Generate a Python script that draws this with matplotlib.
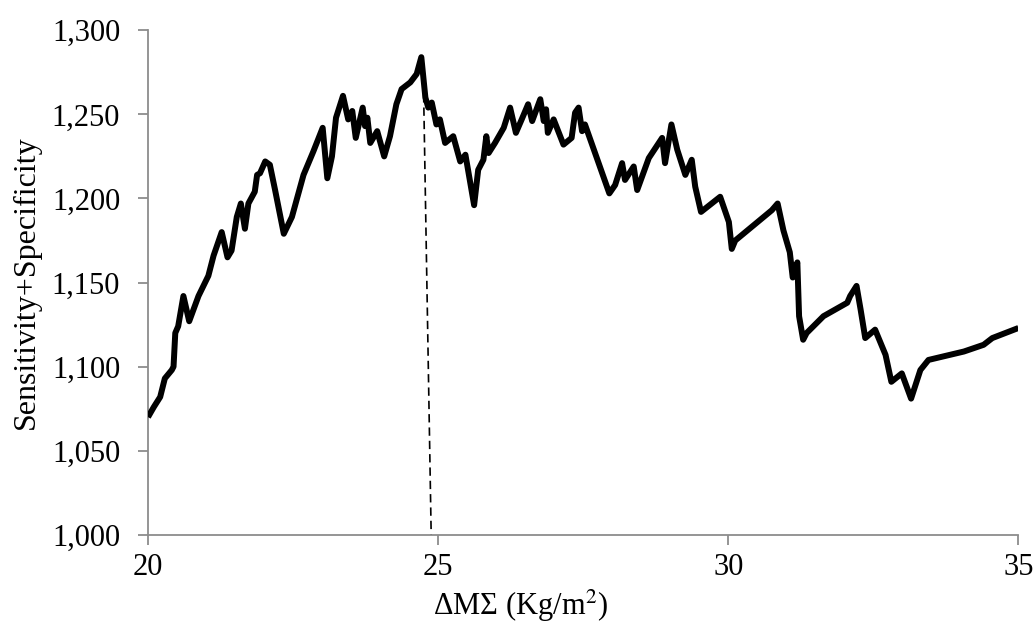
import matplotlib.pyplot as plt
from matplotlib.ticker import FuncFormatter

# values
bmi = [20.00, 20.10, 20.21, 20.29, 20.41, 20.44, 20.47, 20.52, 20.61, 20.71,
       20.87, 21.04, 21.13, 21.27, 21.37, 21.44, 21.53, 21.60, 21.67, 21.73,
       21.84, 21.88, 21.93, 22.02, 22.10, 22.19, 22.34, 22.48, 22.56, 22.68,
       22.85, 23.01, 23.09, 23.17, 23.24, 23.36, 23.45, 23.52, 23.58, 23.70,
       23.74, 23.78, 23.83, 23.95, 24.07, 24.17, 24.28, 24.37, 24.52, 24.63,
       24.71, 24.78, 24.83, 24.89, 24.97, 25.03, 25.12, 25.26, 25.38, 25.47,
       25.62, 25.69, 25.78, 25.83, 25.87, 25.98, 26.13, 26.24, 26.34, 26.44,
       26.55, 26.62, 26.76, 26.82, 26.86, 26.89, 26.99, 27.16, 27.30, 27.36,
       27.42, 27.48, 27.53, 27.95, 28.05, 28.17, 28.22, 28.37, 28.43, 28.63,
       28.86, 28.91, 29.02, 29.12, 29.26, 29.37, 29.43, 29.53, 29.86, 30.01,
       30.06, 30.12, 30.26, 30.61, 30.75, 30.85, 30.95, 31.06, 31.11, 31.19,
       31.22, 31.29, 31.35, 31.64, 32.05, 32.10, 32.21, 32.28, 32.36, 32.53,
       32.71, 32.81, 32.99, 33.15, 33.31, 33.45, 34.06, 34.40, 34.55, 35.00]
sens_spec = [1.070, 1.076, 1.082, 1.093, 1.098, 1.100, 1.120, 1.124, 1.142, 1.127,
             1.142, 1.154, 1.166, 1.180, 1.165, 1.169, 1.189, 1.197, 1.182, 1.197,
             1.204, 1.214, 1.215, 1.222, 1.220, 1.205, 1.179, 1.189, 1.199, 1.214,
             1.228, 1.242, 1.212, 1.225, 1.248, 1.261, 1.247, 1.252, 1.236, 1.254,
             1.243, 1.248, 1.233, 1.240, 1.225, 1.237, 1.256, 1.265, 1.269, 1.274,
             1.284, 1.260, 1.254, 1.257, 1.244, 1.247, 1.233, 1.237, 1.222, 1.226,
             1.196, 1.217, 1.223, 1.237, 1.227, 1.233, 1.242, 1.254, 1.239, 1.247,
             1.256, 1.246, 1.259, 1.246, 1.253, 1.239, 1.247, 1.232, 1.236, 1.251,
             1.254, 1.240, 1.244, 1.203, 1.208, 1.221, 1.211, 1.219, 1.205, 1.224,
             1.236, 1.221, 1.244, 1.229, 1.214, 1.223, 1.207, 1.192, 1.201, 1.186,
             1.170, 1.175, 1.179, 1.189, 1.193, 1.197, 1.181, 1.168, 1.153, 1.162,
             1.130, 1.116, 1.120, 1.130, 1.138, 1.142, 1.148, 1.134, 1.117, 1.122,
             1.107, 1.091, 1.096, 1.081, 1.098, 1.104, 1.109, 1.113, 1.117, 1.123]

cut_x = [24.75, 24.88]
cut_y = [1.262, 1.000]

x_ticks = [20, 25, 30, 35]
y_ticks = [1.000, 1.050, 1.100, 1.150, 1.200, 1.250, 1.300]

plt.rcParams['font.family'] = ['Liberation Serif', 'DejaVu Serif']
plt.rcParams['mathtext.fontset'] = 'stix'

fig = plt.figure(figsize=(10.35, 6.3), dpi=100)
ax = fig.add_axes([0.143, 0.151, 0.841, 0.801])

ax.plot(bmi, sens_spec, color='black', lw=4.3, solid_joinstyle='round',
        solid_capstyle='butt', zorder=3)
ax.plot(cut_x, cut_y, color='black', lw=1.2, ls=(0, (5, 3)), zorder=2)

ax.set_xlim(20, 35)
ax.set_ylim(1.0, 1.3)
ax.set_xticks(x_ticks)
ax.set_yticks(y_ticks)
ax.yaxis.set_major_formatter(FuncFormatter(lambda v, p: f'{v:.3f}'.replace('.', ',')))

for s in ['top', 'right']:
    ax.spines[s].set_visible(False)
for s in ['left', 'bottom']:
    ax.spines[s].set_color('#8c8c8c')
    ax.spines[s].set_linewidth(1.3)
ax.tick_params(colors='#8c8c8c', labelcolor='black', labelsize=22,
               length=7, width=1.3)
ax.tick_params(axis='y', pad=13)
ax.tick_params(axis='x', pad=6)

ax.set_xlabel('ΔΜΣ (Kg/m$^2$)', fontsize=22, labelpad=0)
ax.xaxis.set_label_coords(0.428, -0.105)
ax.set_ylabel('Sensitivity+Specificity', fontsize=23, labelpad=8)

fig.savefig('out.png', dpi=100)
